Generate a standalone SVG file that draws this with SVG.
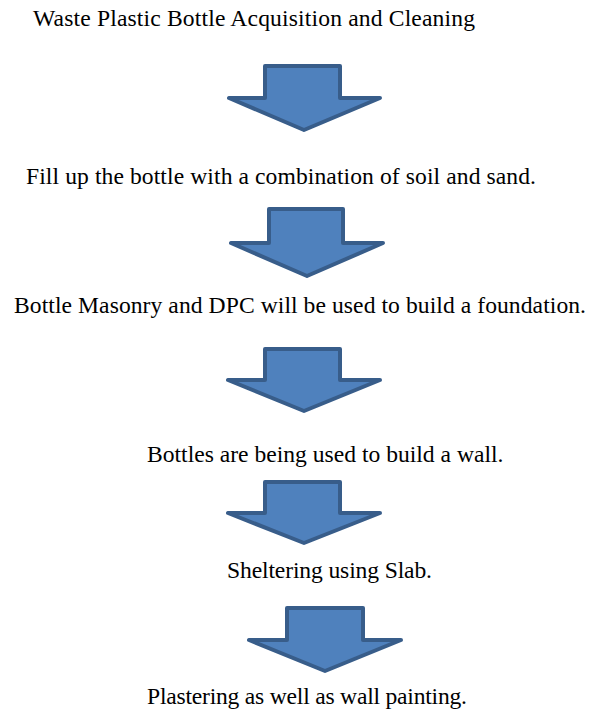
<svg xmlns="http://www.w3.org/2000/svg" width="589" height="718" viewBox="0 0 589 718">
<style>
text{font-family:'Liberation Serif','Times New Roman',serif;font-size:23.6px;fill:#000}
.a{fill:#4F81BD;stroke:#385D8A;stroke-width:4;stroke-linejoin:round}
</style>
<rect width="589" height="718" fill="#fff"/>
<g id="step1"><text x="33" y="26" textLength="442" lengthAdjust="spacing">Waste Plastic Bottle Acquisition and Cleaning</text></g>
<g id="step2"><text x="26" y="184" textLength="510" lengthAdjust="spacing">Fill up the bottle with a combination of soil and sand.</text></g>
<g id="step3"><text x="14" y="313" textLength="572" lengthAdjust="spacing">Bottle Masonry and DPC will be used to build a foundation.</text></g>
<g id="step4"><text x="147" y="462">Bottles are being used to build a wall.</text></g>
<g id="step5"><text x="227" y="578" textLength="205" lengthAdjust="spacing">Sheltering using Slab.</text></g>
<g id="step6"><text x="147" y="704" textLength="320" lengthAdjust="spacing">Plastering as well as wall painting.</text></g>
<g id="connectors">
<path class="a" d="M265 66H340V98H380L304 130L229 98H265Z"/>
<path class="a" d="M269 209H343V243H383L307 276L231 243H269Z"/>
<path class="a" d="M265 349H340V380H380L304 411L228 380H265Z"/>
<path class="a" d="M265 482H340V513H380L304 543L228 513H265Z"/>
<path class="a" d="M287 608H363V640H401L325 671L249 640H287Z"/>
</g>
</svg>
